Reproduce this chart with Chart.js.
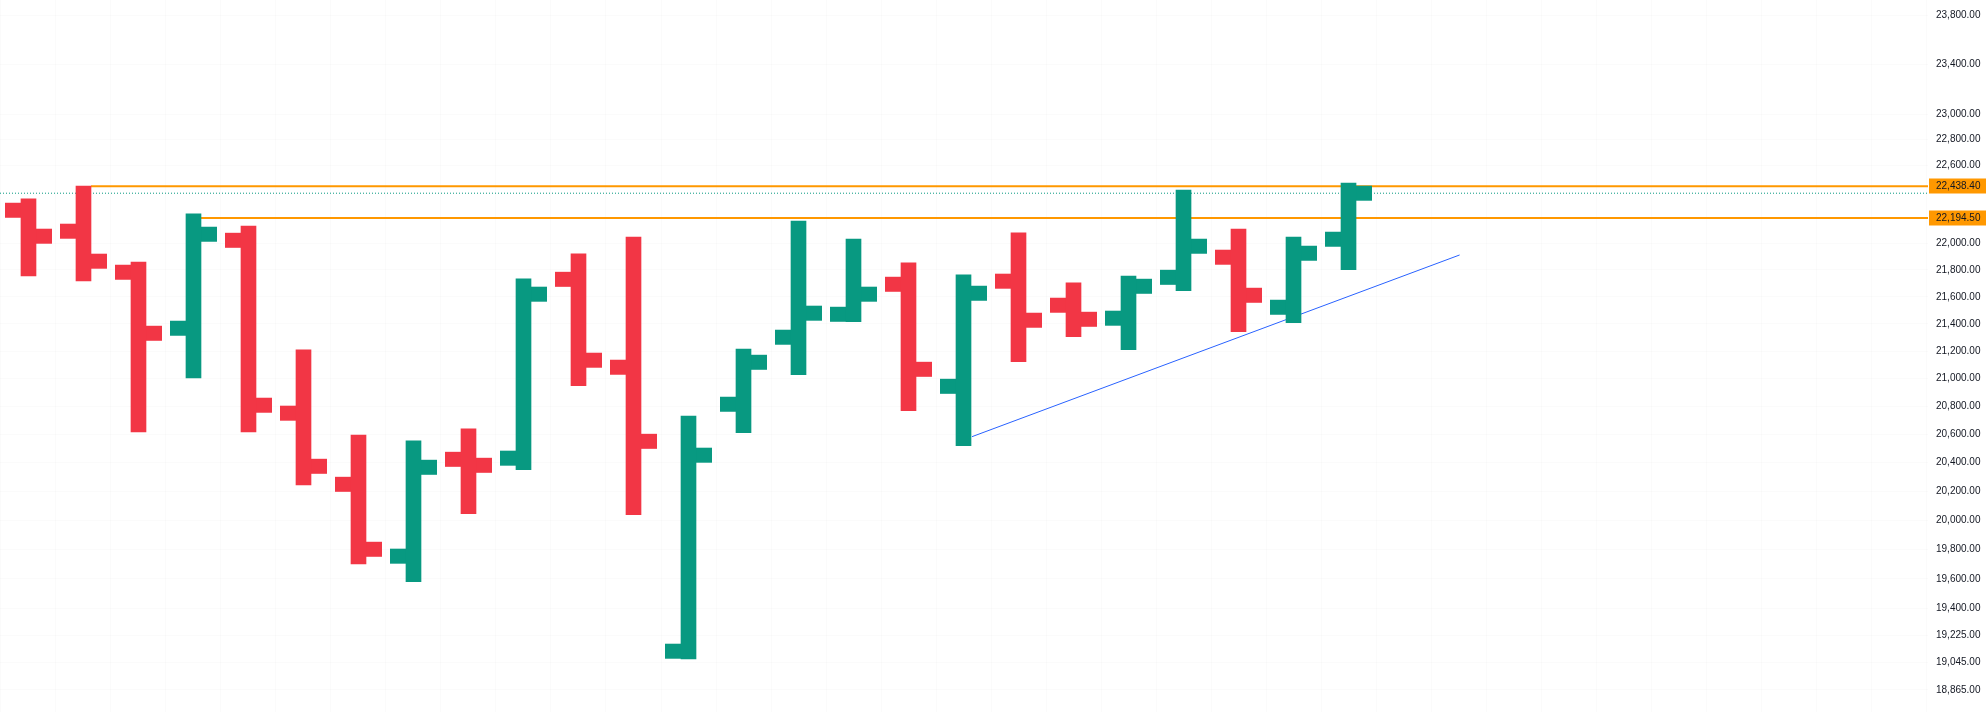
<!DOCTYPE html>
<html>
<head>
<meta charset="utf-8">
<script src="https://cdn.jsdelivr.net/npm/chart.js@4"></script>
<style>
  html, body { margin: 0; padding: 0; background: #ffffff; }
</style>
</head>
<body>
<canvas id="grafico" width="1986" height="712"></canvas>
<script>
// OHLC values, one entry per bar (left to right)
const opens  = [22253, 22093, 21783, 21367, 22024, 20751, 20249, 19754, 20424, 20432, 21730, 21082, 19118,
                20815, 21301, 21470, 21693, 20944, 21716, 21537, 21441, 21745, 21896, 21522, 22032];
const highs  = [22340, 22438.4, 21860, 22225, 22133, 21208, 20596, 20554, 20639, 21733, 21921, 22049, 20731,
                21215, 22171, 22034, 21853, 21763, 22080, 21703, 21755, 22409, 22110, 22049, 22463];
const lows   = [21755, 21718, 20617, 21004, 20617, 20245, 19701, 19582, 20045, 20351, 20949, 20039, 19067,
                20612, 21028, 21416, 20769, 20520, 21123, 21305, 21210, 21645, 21342, 21408, 21802];
const closes = [22055, 21866, 21330, 22070, 20808, 20375, 19801, 20368, 20382, 21619, 21133, 20551, 20453,
                21118, 21478, 21619, 21067, 21626, 21426, 21433, 21678, 21979, 21611, 21926, 22384];

// price axis labels
const yTicks = [23800, 23400, 23000, 22800, 22600, 22000, 21800, 21600, 21400, 21200, 21000, 20800,
                20600, 20400, 20200, 20000, 19800, 19600, 19400, 19225, 19045, 18865];

// horizontal levels (orange) and the bar index where each starts
const levels = [22438.4, 22194.5];
const levelStart = [1.136, 3.136];

// rising trend line
const trendX = [17.155, 26.02];
const trendY = [20584, 21913];

const UP = '#089981';
const DOWN = '#F23645';
const X_MIN = -0.518, X_MAX = 34.536;
const FONT = '"Liberation Sans", Arial, sans-serif';

const fmt = v => Number(v).toLocaleString('en-US', { minimumFractionDigits: 2, maximumFractionDigits: 2 });
const colorBarra = i => closes[i] >= opens[i] ? UP : DOWN;

const rangos = opens.map((_, i) => ({ x: i, y: [lows[i], highs[i]] }));
const aperturas = opens.map((v, i) => ({ x: i - 0.2818, y: v }));
const cierres = closes.map((v, i) => ({ x: i + 0.2818, y: v }));
const ultimo = closes[closes.length - 1];

// orange boxes on the price axis for the two levels
const etiquetasNivel = {
  id: 'etiquetasNivel',
  afterDraw(chart) {
    const ctx = chart.ctx;
    const y = chart.scales.y;
    ctx.save();
    ctx.font = '10px ' + FONT;
    ctx.textAlign = 'left';
    ctx.textBaseline = 'middle';
    levels.forEach(v => {
      const py = Math.round(y.getPixelForValue(v));
      ctx.fillStyle = '#FF9800';
      ctx.fillRect(y.left + 1, py - 7.5, y.right - y.left - 1, 15);
      ctx.fillStyle = '#131722';
      ctx.fillText(fmt(v), y.left + 8, py);
    });
    ctx.restore();
  }
};

const lineasNivel = levels.map((v, k) => ({
  type: 'line',
  data: [{ x: levelStart[k], y: v }, { x: X_MAX, y: v }],
  borderColor: '#FF9800',
  borderWidth: 2,
  pointRadius: 0,
  order: 2
}));

new Chart(document.getElementById('grafico').getContext('2d'), {
  type: 'bar',
  data: {
    datasets: [
      {
        type: 'bar',
        data: rangos,
        backgroundColor: c => colorBarra(c.dataIndex),
        barThickness: 15,
        borderWidth: 0,
        order: 0
      },
      {
        type: 'scatter',
        data: aperturas,
        pointStyle: 'line',
        pointRadius: 8,
        pointBorderWidth: 15,
        pointBorderColor: c => colorBarra(c.dataIndex),
        order: 0
      },
      {
        type: 'scatter',
        data: cierres,
        pointStyle: 'line',
        pointRadius: 8,
        pointBorderWidth: 15,
        pointBorderColor: c => colorBarra(c.dataIndex),
        order: 0
      },
      ...lineasNivel,
      {
        type: 'line',
        data: [{ x: X_MIN, y: ultimo }, { x: X_MAX, y: ultimo }],
        borderColor: UP,
        borderWidth: 1,
        borderDash: [1, 2],
        pointRadius: 0,
        order: 3
      },
      {
        type: 'line',
        data: trendX.map((x, k) => ({ x: x, y: trendY[k] })),
        borderColor: '#2962FF',
        borderWidth: 1,
        pointRadius: 0,
        order: 2
      }
    ]
  },
  options: {
    responsive: false,
    animation: false,
    layout: { padding: 0, autoPadding: false },
    plugins: {
      legend: { display: false },
      tooltip: { enabled: false }
    },
    scales: {
      x: {
        type: 'linear',
        min: X_MIN,
        max: X_MAX,
        offset: false,
        border: { display: false },
        grid: { color: 'rgba(42,46,57,0.02)', drawTicks: false },
        ticks: { display: false },
        afterBuildTicks: s => { s.ticks = opens.concat(opens.slice(0, 10)).map((_, i) => ({ value: i })); },
        afterFit: s => { s.height = 0; s.paddingLeft = 0; s.paddingRight = 0; }
      },
      y: {
        type: 'logarithmic',
        position: 'right',
        min: 18722,
        max: 23924,
        border: { display: false },
        grid: { color: 'rgba(42,46,57,0.02)', drawTicks: false },
        ticks: {
          autoSkip: false,
          padding: 8,
          color: '#131722',
          font: { family: FONT, size: 10 },
          callback: v => fmt(v)
        },
        afterBuildTicks: s => { s.ticks = yTicks.map(v => ({ value: v })); },
        afterFit: s => { s.width = 58; s.paddingTop = 0; s.paddingBottom = 0; }
      }
    }
  },
  plugins: [etiquetasNivel]
});
</script>
</body>
</html>
